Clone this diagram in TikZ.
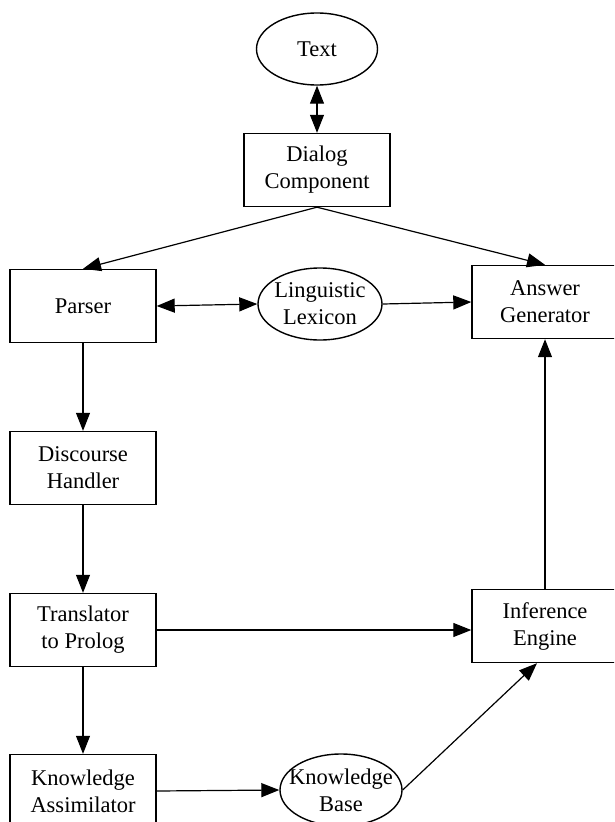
\documentclass[tikz,border=0pt]{standalone}
\usepackage{fontspec}
\setmainfont{Liberation Serif}
\usepackage{tikz}
\usetikzlibrary{calc, positioning, arrows.meta, shapes.geometric}

\tikzset{
  unit/.style={draw, line width=1.4pt, minimum width=146pt, minimum height=73pt,
    inner sep=0pt, align=center},
  blob/.style={draw, ellipse, line width=1.4pt, inner sep=0pt, align=center},
  flow/.style={line width=1.2pt, -{Triangle[length=18pt, width=14pt]}},
  both/.style={line width=1.2pt, {Triangle[length=18pt, width=14pt]}-{Triangle[length=18pt, width=14pt]}},
}

\begin{document}
\begin{tikzpicture}[x=1pt, y=-1pt, font=\fontsize{22.5}{27}\selectfont]
  \useasboundingbox (0,0) rectangle (614,822);
  \clip (0,0) rectangle (614,822);

  % Input text and dialog
  \node[blob, minimum width=121pt, minimum height=72pt] (text) at (317,49) {Text};
  \node[unit] (dialog) at (317,170) {Dialog\\Component};

  % Left column
  \node[unit] (parser) at (83,306) {Parser};
  \node[unit] (discourse) at (83,468) {Discourse\\Handler};
  \node[unit] (translator) at (83,630) {Translator\\to Prolog};
  \node[unit] (assimilator) at (83,791) {Knowledge\\Assimilator};

  % Middle: lexicon and knowledge base
  \node[blob, inner xsep=-3pt, minimum width=124pt, minimum height=72pt] (lexicon) at (320,304) {Linguistic\\Lexicon};
  \node[blob, inner xsep=-11pt, minimum width=122pt, minimum height=72pt] (base) at (341,790) {Knowledge\\Base};

  % Right column
  \node[unit] (answer) at (545,302) {Answer\\Generator};
  \node[unit] (inference) at (545,626) {Inference\\Engine};

  % Connectors
  \draw[both] (text) -- (dialog);
  \draw[flow] (dialog.south) -- (parser.north);
  \draw[flow] (dialog.south) -- (answer.north);
  \draw[both] (parser.east) -- (lexicon.west);
  \draw[flow] (lexicon.east) -- (answer.west);
  \draw[flow] (parser) -- (discourse);
  \draw[flow] (discourse) -- (translator);
  \draw[flow] (translator.east) -- (inference.west |- translator.east);
  \draw[flow] (translator) -- (assimilator);
  \draw[flow] (assimilator.east) -- (base.west);
  \draw[flow] (base.east) -- ([xshift=-8pt]inference.south);
  \draw[flow] (inference) -- (answer);
\end{tikzpicture}
\end{document}
